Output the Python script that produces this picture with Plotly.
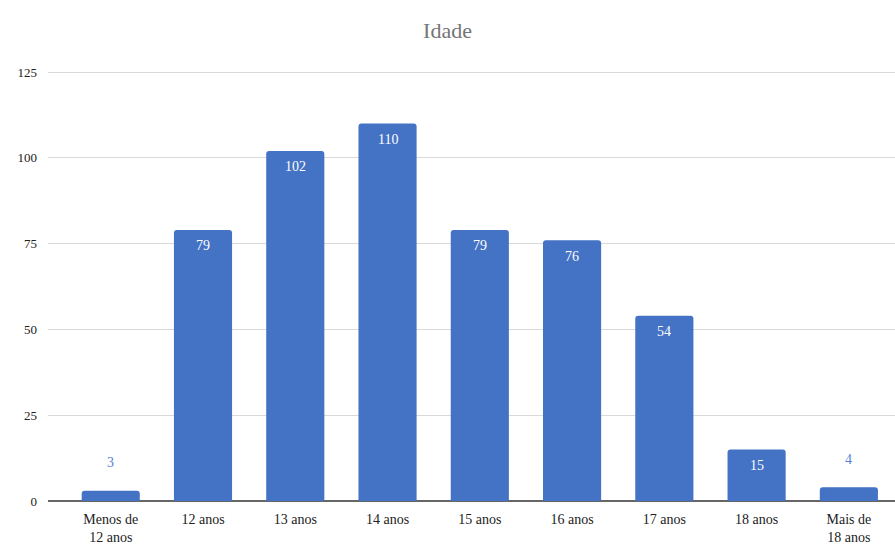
import plotly.graph_objects as go

# Age distribution of respondents
categories = ["Menos de<br>12 anos", "12 anos", "13 anos", "14 anos", "15 anos",
              "16 anos", "17 anos", "18 anos", "Mais de<br>18 anos"]
counts = [3, 79, 102, 110, 79, 76, 54, 15, 4]
y_ticks = [0, 25, 50, 75, 100, 125]

BAR_COLOR = "#4472C4"
FONT = "Liberation Serif, Times New Roman, serif"

fig = go.Figure(
    go.Bar(
        x=list(range(len(categories))),
        y=counts,
        marker=dict(color=BAR_COLOR, line=dict(width=0)),
        width=0.63,
        hoverinfo="x+y",
    )
)

# Value labels: inside near the top for tall bars, above for short ones
for i, v in enumerate(counts):
    inside = v >= 10
    fig.add_annotation(
        x=i, y=v, text=str(v), showarrow=False,
        yshift=-16 if inside else 28,
        font=dict(family=FONT, size=14, color="white" if inside else "#5b7fd6"),
    )

fig.update_layout(
    width=895, height=547,
    margin=dict(l=48, r=0, t=71, b=46),
    paper_bgcolor="white", plot_bgcolor="white",
    barcornerradius=3,
    title=dict(text="Idade", x=0.5, xanchor="center", y=0.945, yanchor="middle",
               font=dict(family=FONT, size=22, color="#757575")),
    font=dict(family=FONT, size=13, color="#333333"),
    showlegend=False,
)
fig.update_xaxes(
    tickmode="array", tickvals=list(range(len(categories))), ticktext=categories,
    range=[-0.68, 8.5], showgrid=False, zeroline=False,
    showline=False, ticks="", ticklabelstandoff=8,
    tickfont=dict(size=14, color="#222222"),
)
fig.update_yaxes(
    range=[0, 125.3], tickvals=y_ticks, showgrid=True, gridcolor="#d9d9d9", gridwidth=1,
    zeroline=True, zerolinecolor="#666666", zerolinewidth=1.5,
    ticks="", ticklabelstandoff=10, tickfont=dict(size=13, color="#222222"),
)

fig.write_html("out.html")
